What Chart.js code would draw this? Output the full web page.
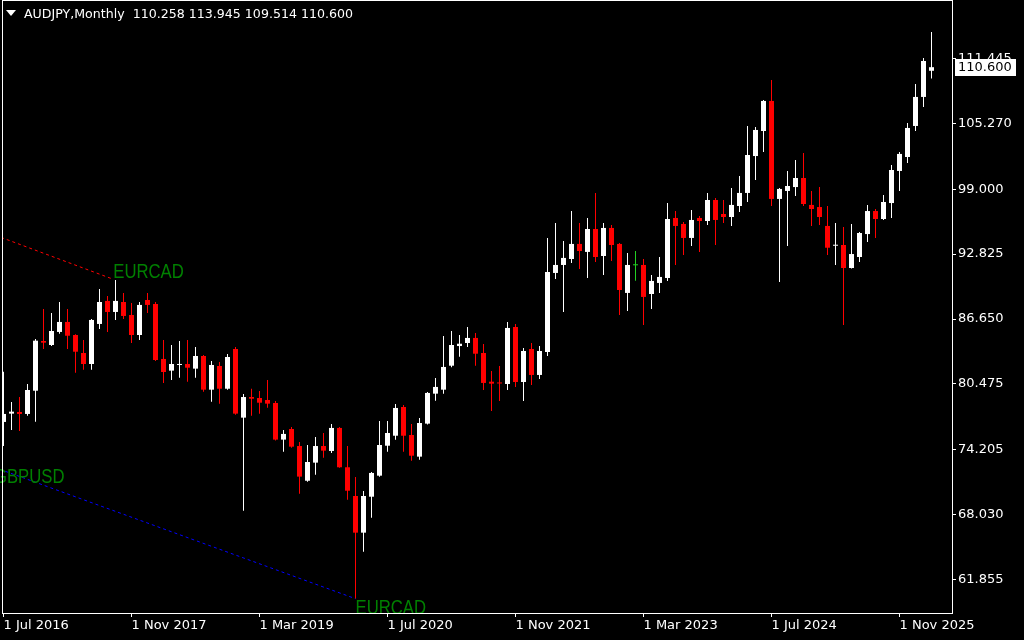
<!DOCTYPE html>
<html>
<head>
<meta charset="utf-8">
<title>AUDJPY Monthly</title>
<script src="https://cdn.jsdelivr.net/npm/chart.js@4.4.1/dist/chart.umd.min.js"></script>
<style>
    html, body { margin: 0; padding: 0; background: #000; }
    #wrap { width: 1024px; height: 640px; }
</style>
</head>
<body>
<div id="wrap"><canvas id="chart" width="1024" height="640"></canvas></div>
<script>
// monthly candles, first one is Jul 2016
const symbol = 'AUDJPY,Monthly';

const opens = [
    76.86, 77.65, 77.81, 77.62, 79.83, 84.56, 84.18, 85.42, 86.37, 85.13,
    83.42, 82.37, 86.18, 88.37, 87.32, 88.27, 87.03, 85.13, 88.46, 88.08,
    82.85, 81.74, 82.28, 82.37, 81.93, 83.13, 79.93, 82.18, 80.02, 83.80,
    77.27, 79.23, 79.14, 78.95, 78.66, 75.18, 76.19, 74.57, 71.27, 72.99,
    74.57, 74.10, 76.29, 72.55, 69.82, 66.33, 69.75, 71.75, 74.60, 75.55,
    78.28, 75.62, 73.56, 76.70, 79.55, 79.93, 82.21, 84.08, 84.37, 84.85,
    83.42, 80.69, 80.61, 80.47, 85.89, 80.66, 83.80, 81.33, 83.51, 91.03,
    91.79, 92.36, 93.79, 93.03, 95.21, 92.64, 95.31, 93.79, 89.13, 91.76,
    91.79, 89.03, 90.08, 90.55, 96.26, 95.69, 94.36, 96.26, 95.97, 97.97,
    96.64, 96.35, 97.40, 98.64, 102.15, 104.53, 107.39, 98.07, 98.83, 99.20,
    100.06, 97.50, 97.30, 95.50, 93.62, 93.69, 91.50, 92.55, 94.73, 96.92,
    96.16, 97.68, 100.73, 102.06, 105.01, 107.77, 110.258
];
const highs = [
    81.64, 78.76, 79.23, 80.47, 84.75, 87.60, 87.22, 88.27, 87.60, 85.20,
    84.65, 86.65, 89.51, 88.84, 90.36, 89.13, 88.17, 88.27, 89.13, 88.27,
    84.65, 84.18, 84.56, 84.65, 83.99, 83.23, 82.66, 82.56, 83.32, 83.99,
    79.52, 80.02, 79.81, 80.85, 78.85, 76.10, 76.38, 74.96, 74.67, 75.43,
    75.81, 76.67, 76.38, 74.57, 71.63, 70.30, 72.10, 76.95, 76.95, 78.57,
    78.47, 76.67, 77.24, 79.71, 81.04, 85.04, 85.51, 85.13, 85.89, 85.32,
    84.28, 81.71, 82.18, 86.37, 86.18, 83.89, 84.37, 84.08, 94.36, 95.78,
    94.07, 96.92, 95.78, 96.26, 98.63, 95.78, 95.59, 93.88, 92.93, 93.12,
    92.36, 90.84, 92.55, 97.68, 96.92, 95.88, 97.02, 96.45, 98.63, 98.16,
    97.97, 99.11, 100.25, 105.01, 104.91, 107.48, 109.38, 99.11, 100.73, 101.77,
    102.44, 98.83, 99.20, 97.40, 95.78, 95.40, 95.69, 94.93, 97.49, 97.11,
    98.45, 101.30, 102.53, 105.29, 109.00, 111.47, 113.945
];
const lows = [
    74.57, 76.10, 76.00, 77.46, 76.89, 83.80, 84.09, 85.25, 83.80, 81.55,
    81.83, 81.83, 85.70, 85.42, 86.56, 86.65, 84.37, 84.66, 87.22, 82.66,
    80.57, 80.85, 81.07, 80.69, 81.07, 79.74, 78.79, 78.60, 79.93, 77.55,
    68.42, 77.46, 77.65, 78.22, 75.10, 74.03, 74.41, 70.04, 71.18, 71.85,
    73.46, 73.91, 72.51, 69.47, 60.05, 64.52, 67.76, 71.66, 74.03, 75.17,
    74.03, 73.18, 73.27, 76.62, 78.88, 79.55, 82.06, 83.07, 83.99, 82.21,
    79.90, 77.90, 78.85, 79.90, 80.19, 78.85, 80.38, 80.95, 83.13, 90.46,
    87.32, 91.98, 91.41, 90.55, 92.07, 90.84, 92.17, 87.03, 87.41, 90.30,
    86.08, 87.60, 89.13, 90.27, 91.79, 92.74, 93.59, 93.03, 95.59, 93.69,
    95.78, 95.50, 96.83, 97.78, 99.87, 102.53, 97.40, 90.17, 93.59, 98.35,
    97.40, 95.50, 95.59, 92.74, 91.79, 86.08, 91.45, 92.07, 93.98, 94.36,
    96.07, 96.26, 98.83, 101.49, 104.53, 106.81, 109.514
];
const closes = [
    77.62, 77.84, 77.62, 79.90, 84.59, 84.40, 85.51, 86.37, 85.06, 83.54,
    82.37, 86.56, 88.27, 87.32, 88.37, 86.94, 85.13, 87.99, 87.99, 82.75,
    81.61, 82.37, 82.37, 82.02, 83.13, 79.93, 82.28, 80.02, 83.04, 77.65,
    79.23, 79.07, 78.69, 78.60, 75.18, 75.72, 74.51, 71.66, 73.05, 74.57,
    74.13, 76.29, 72.55, 70.32, 66.33, 69.82, 72.01, 74.67, 75.81, 78.19,
    75.55, 73.65, 76.76, 79.62, 80.19, 82.09, 84.18, 84.30, 84.85, 83.35,
    80.57, 80.50, 80.52, 85.80, 80.66, 83.61, 81.33, 83.61, 91.12, 91.79,
    92.46, 93.79, 93.12, 95.21, 92.55, 95.31, 93.69, 89.41, 91.79, 91.76,
    88.75, 90.27, 90.65, 96.16, 95.50, 94.36, 96.07, 95.97, 97.97, 96.07,
    96.35, 97.50, 98.64, 102.25, 104.63, 107.39, 98.07, 99.02, 99.30, 100.06,
    97.59, 97.11, 96.35, 93.43, 93.69, 91.50, 92.83, 94.83, 96.92, 96.16,
    97.78, 100.82, 102.35, 104.82, 107.77, 111.19, 110.600
];

const yTickValues = [61.855, 68.030, 74.205, 80.475, 86.650, 92.825, 99.000, 105.270, 111.445];
const xTickIndex = [0, 16, 32, 48, 64, 80, 96, 112];
const xTickLabels = ['1 Jul 2016', '1 Nov 2017', '1 Mar 2019', '1 Jul 2020',
                     '1 Nov 2021', '1 Mar 2023', '1 Jul 2024', '1 Nov 2025'];

// objects on the chart: two trend lines and three text labels (bar index, price)
const redLine = [{ x: -1, y: 94.61 }, { x: 13.72, y: 90.43 }];
const blueLine = [{ x: -1.19, y: 72.56 }, { x: 44, y: 60.05 }];
const labelNames = ['EURCAD', 'GBPUSD', 'EURCAD'];
const labelIdx = [13.72, -1.19, 44];
const labelPrice = [90.43, 72.56, 60.05];

const bullColor = '#ffffff';
const bearColor = '#ff0000';
const dojiColor = '#22d022';

const candleColors = closes.map((c, i) => c > opens[i] ? bullColor : (c < opens[i] ? bearColor : dojiColor));
const wickData = opens.map((o, i) => ({ x: i, y: [lows[i], highs[i]] }));
const bodyData = opens.map((o, i) => ({ x: i, y: [Math.min(o, closes[i]), Math.max(o, closes[i])] }));

const mtPlugin = {
    id: 'mt4look',
    beforeDraw(chart) {
        const ctx = chart.ctx;
        ctx.save();
        ctx.fillStyle = '#000';
        ctx.fillRect(0, 0, chart.width, chart.height);
        ctx.restore();
    },
    afterDatasetsDraw(chart) {
        const ctx = chart.ctx;
        const xs = chart.scales.x, ys = chart.scales.y;
        ctx.save();
        ctx.fillStyle = '#008000';
        ctx.font = '20px "Liberation Sans", Arial, sans-serif';
        ctx.textBaseline = 'alphabetic';
        labelNames.forEach((name, i) => {
            const px = xs.getPixelForValue(labelIdx[i]);
            const py = ys.getPixelForValue(labelPrice[i]);
            // first label sits above its point, the others hang below
            const base = i === 0 ? py - 1.3 : py + 15.5;
            ctx.save();
            ctx.translate(px, base);
            ctx.scale(0.835, 1);
            ctx.fillText(name, 0, 0);
            ctx.restore();
        });
        ctx.restore();
    },
    afterDraw(chart) {
        const ctx = chart.ctx;
        const area = chart.chartArea;
        const ys = chart.scales.y;
        const last = closes.length - 1;
        ctx.save();

        // frame
        ctx.strokeStyle = '#ffffff';
        ctx.lineWidth = 1;
        ctx.strokeRect(area.left - 0.5, area.top - 0.5, area.right - area.left + 1, area.bottom - area.top + 1);

        // header
        ctx.fillStyle = '#ffffff';
        ctx.beginPath();
        ctx.moveTo(6, 10);
        ctx.lineTo(16, 10);
        ctx.lineTo(11, 16);
        ctx.closePath();
        ctx.fill();
        ctx.font = '12.6px "DejaVu Sans", sans-serif';
        ctx.textBaseline = 'alphabetic';
        const head = symbol + '  ' + [opens[last], highs[last], lows[last], closes[last]].map(v => v.toFixed(3)).join(' ');
        ctx.fillText(head, 24, 18);

        // current price box
        const py = Math.round(ys.getPixelForValue(closes[last]));
        const txt = closes[last].toFixed(3);
        ctx.font = '13px "DejaVu Sans", sans-serif';
        ctx.fillStyle = '#ffffff';
        ctx.fillRect(area.right + 3, py - 8, 61, 17);
        ctx.fillStyle = '#000000';
        ctx.textBaseline = 'middle';
        ctx.fillText(txt, area.right + 6, py + 1);
        ctx.restore();
    }
};

const ctx = document.getElementById('chart');
new Chart(ctx, {
    type: 'bar',
    data: {
        datasets: [
            {
                type: 'line', data: redLine, borderColor: '#ff0000', borderWidth: 1,
                borderDash: [3, 3], pointRadius: 0, fill: false, order: 0
            },
            {
                type: 'line', data: blueLine, borderColor: '#0000ff', borderWidth: 1,
                borderDash: [3, 3], pointRadius: 0, fill: false, order: 0
            },
            {
                label: 'body', data: bodyData, backgroundColor: candleColors,
                barThickness: 5, minBarLength: 1, grouped: false, inflateAmount: 0, order: 1
            },
            {
                label: 'wick', data: wickData, backgroundColor: candleColors,
                barThickness: 1, grouped: false, inflateAmount: 0, order: 2
            }
        ]
    },
    options: {
        responsive: false,
        animation: false,
        devicePixelRatio: 1,
        layout: { autoPadding: false, padding: { left: 3, top: 1, right: 0, bottom: 0 } },
        plugins: { legend: { display: false }, tooltip: { enabled: false } },
        scales: {
            x: {
                type: 'linear',
                bounds: 'data',
                min: -0.0625,
                max: 118.5625,
                offset: false,
                grid: { offset: false, drawOnChartArea: false, drawTicks: true, tickLength: 4, color: '#ffffff' },
                border: { display: false },
                ticks: {
                    color: '#ffffff',
                    font: { family: 'DejaVu Sans', size: 13 },
                    align: 'start',
                    padding: 1,
                    autoSkip: false,
                    maxRotation: 0,
                    minRotation: 0,
                    callback: (v) => {
                        const j = xTickIndex.indexOf(v);
                        return j >= 0 ? xTickLabels[j] : '';
                    }
                },
                afterBuildTicks: (scale) => { scale.ticks = xTickIndex.map(v => ({ value: v })); },
                afterFit: (scale) => {
                    scale.height = 27;
                    scale.paddingLeft = 0;
                    scale.paddingRight = 0;
                }
            },
            y: {
                position: 'right',
                bounds: 'data',
                beginAtZero: false,
                min: 58.69,
                max: 116.895,
                grid: { drawOnChartArea: false, drawTicks: true, tickLength: 4, color: '#ffffff' },
                border: { display: false },
                ticks: {
                    color: '#ffffff',
                    font: { family: 'DejaVu Sans', size: 13 },
                    padding: 2,
                    callback: (v) => Number(v).toFixed(3)
                },
                afterBuildTicks: (scale) => { scale.ticks = yTickValues.map(v => ({ value: v })); },
                afterFit: (scale) => {
                    scale.width = 72;
                    scale.paddingTop = 0;
                    scale.paddingBottom = 0;
                }
            }
        }
    },
    plugins: [mtPlugin]
});
</script>
</body>
</html>
